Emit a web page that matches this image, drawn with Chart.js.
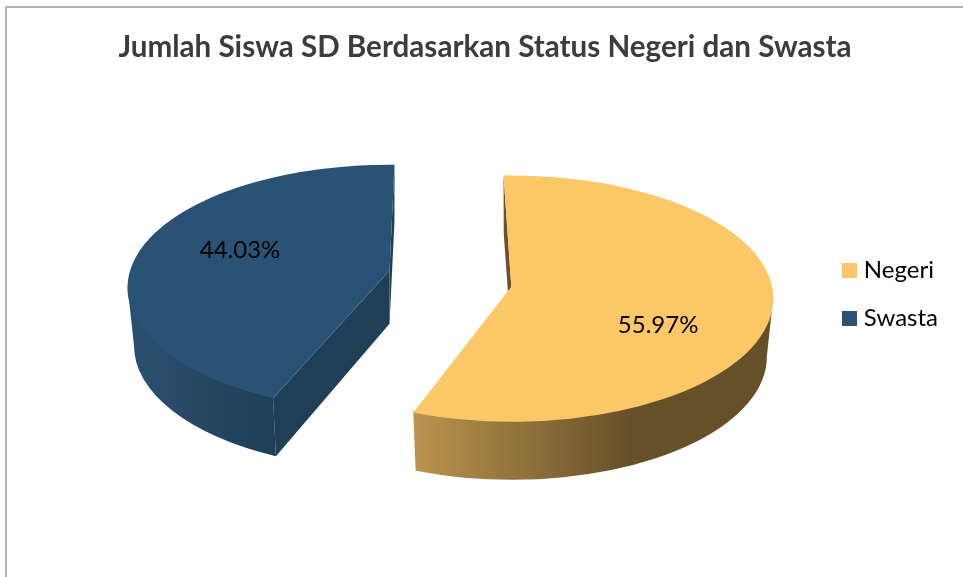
<!DOCTYPE html>
<html>
<head>
<meta charset="utf-8">
<script src="https://cdn.jsdelivr.net/npm/chart.js@4"></script>
<style>
html,body{margin:0;padding:0;background:#fff;overflow:hidden}
#frame{position:absolute;left:5px;top:6px;width:958px;height:571px;border-left:2px solid #b4b4b4;border-top:2px solid #b4b4b4;box-sizing:border-box}
canvas{display:block}
</style>
</head>
<body>
<div id="frame"><canvas id="c" width="956" height="569"></canvas></div>
<script>
const categories = ['Negeri', 'Swasta'];
const values = [55.97, 44.03];
const sliceColors = ['#FCC766', '#2A5274'];
const chartTitle = 'Jumlah Siswa SD Berdasarkan Status Negeri dan Swasta';

// Look of the 3D projection (styling only, the angles come from the library's arcs)
const TILT = 0.47, DEPTH = 58, INNER_DEPTH = 53, RX_SHRINK = 6.5;
const SHIFT_X = 28, SHIFT_Y = -1;
const look = [
  { startNudge: -1.7, endNudge: 0.5, apexLift: 12, labelNudge: 10.25, labelK: 0.6,
    showStartCut: true, showEndCut: false,
    wall: [[0, '#BC944E'], [0.6, '#66502A'], [1, '#66502A']], cut: '#6B5228' },
  { startNudge: 4.9, endNudge: 1.1, apexLift: 17, labelNudge: 17.25, labelK: 0.646,
    showStartCut: true, showEndCut: true,
    wall: [[0, '#2B5070'], [1, '#1F3F57']], cut: '#1F3F57' }
];
const rad = d => d * Math.PI / 180;

function geometry(arc, i) {
  const L = look[i], off = arc.options.offset;
  const mid = (arc.startAngle + arc.endAngle) / 2;
  const cx = arc.x + SHIFT_X + Math.cos(mid) * off;
  const cy = arc.y + SHIFT_Y + Math.sin(mid) * off * TILT;
  const rx = arc.outerRadius, ry = rx * TILT;
  return { L, mid, cx, cy, rx, ry,
    a0: arc.startAngle + rad(L.startNudge),
    a1: arc.endAngle + rad(L.endNudge),
    ax: cx, ay: cy - L.apexLift };
}

const pie3d = {
  id: 'pie3d',
  beforeDatasetDraw(chart) {
    const ctx = chart.ctx;
    const arcs = chart.getDatasetMeta(0).data;
    arcs.forEach((arc, i) => {
      const g = geometry(arc, i);
      const pt = (a, bottom) => bottom
        ? [g.cx + (g.rx - RX_SHRINK) * Math.cos(a), g.cy + DEPTH + g.ry * Math.sin(a)]
        : [g.cx + g.rx * Math.cos(a), g.cy + g.ry * Math.sin(a)];
      ctx.save();
      // cut faces
      ctx.fillStyle = g.L.cut;
      const cuts = [];
      if (g.L.showStartCut) cuts.push(g.a0);
      if (g.L.showEndCut) cuts.push(g.a1);
      cuts.forEach(a => {
        const p = pt(a, false), q = pt(a, true);
        ctx.beginPath();
        ctx.moveTo(g.ax, g.ay);
        ctx.lineTo(p[0], p[1]);
        ctx.lineTo(q[0], q[1]);
        ctx.lineTo(g.ax, g.ay + INNER_DEPTH);
        ctx.closePath();
        ctx.fill();
      });
      // outer wall: the part of the rim that faces the viewer
      const w0 = Math.max(g.a0, 0), w1 = Math.min(g.a1, Math.PI);
      if (w1 > w0) {
        const xs = [pt(w0, true)[0], pt(w1, true)[0], pt(w0, false)[0], pt(w1, false)[0]];
        const xa = Math.min(...xs), xb = Math.max(...xs);
        const grad = ctx.createLinearGradient(xa, 0, xb, 0);
        g.L.wall.forEach(([t, c]) => grad.addColorStop(t, c));
        ctx.fillStyle = grad;
        ctx.beginPath();
        ctx.ellipse(g.cx, g.cy - 2, g.rx, g.ry, 0, w0, w1);
        ctx.ellipse(g.cx, g.cy + DEPTH, g.rx - RX_SHRINK, g.ry, 0, w1, w0, true);
        ctx.closePath();
        ctx.fill();
      }
      // top face
      ctx.fillStyle = arc.options.backgroundColor;
      ctx.beginPath();
      ctx.moveTo(g.ax, g.ay);
      ctx.ellipse(g.cx, g.cy, g.rx, g.ry, 0, g.a0, g.a1);
      ctx.closePath();
      ctx.fill();
      ctx.restore();
    });
    return false;
  },
  afterDatasetsDraw(chart) {
    const ctx = chart.ctx;
    chart.getDatasetMeta(0).data.forEach((arc, i) => {
      const g = geometry(arc, i);
      const a = g.mid + rad(g.L.labelNudge);
      ctx.save();
      ctx.fillStyle = '#000';
      ctx.font = '24px Lato';
      ctx.textAlign = 'center';
      ctx.textBaseline = 'middle';
      ctx.fillText(values[i].toFixed(2) + '%',
        g.cx + Math.cos(a) * g.rx * g.L.labelK,
        g.cy + Math.sin(a) * g.ry * g.L.labelK);
      ctx.restore();
    });
  }
};

function swatch(color) {
  const s = document.createElement('canvas');
  s.width = 15; s.height = 15;
  const x = s.getContext('2d');
  x.fillStyle = color;
  x.fillRect(0, 0, 15, 15);
  return s;
}

new Chart(document.getElementById('c'), {
  type: 'pie',
  data: {
    labels: categories,
    datasets: [{ data: values, backgroundColor: sliceColors, borderWidth: 0, offset: 62 }]
  },
  plugins: [pie3d],
  options: {
    responsive: false,
    animation: false,
    radius: 262,
    layout: { padding: { left: 15, right: 15, top: 0, bottom: 68 } },
    plugins: {
      tooltip: { enabled: false },
      title: {
        display: true,
        text: chartTitle,
        color: '#3c3c3c',
        font: { family: 'Lato', size: 29.6, weight: 'bold' },
        padding: { top: 22, bottom: 14 }
      },
      legend: {
        position: 'right',
        fullSize: false,
        labels: {
          color: '#111',
          font: { family: 'Lato', size: 24 },
          padding: 24,
          usePointStyle: true,
          pointStyleWidth: 5,
          boxHeight: 15,
          generateLabels: () => categories.map((name, i) => ({
            text: name,
            fillStyle: sliceColors[i],
            strokeStyle: sliceColors[i],
            lineWidth: 0,
            pointStyle: swatch(sliceColors[i]),
            index: i
          }))
        }
      }
    }
  }
});
</script>
</body>
</html>
